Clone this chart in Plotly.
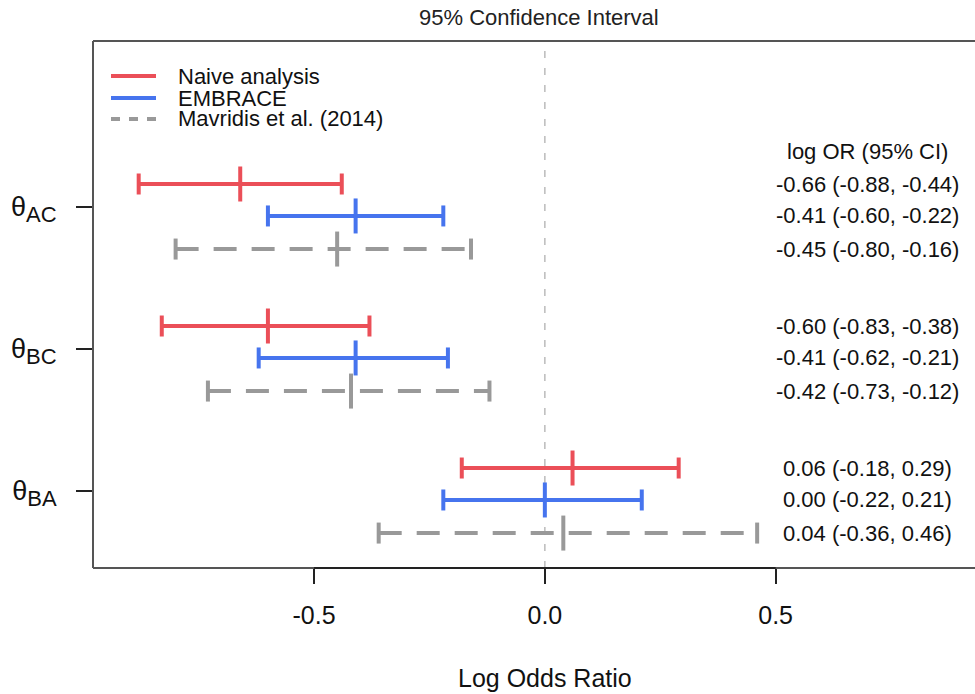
import plotly.graph_objects as go

# ---------------- data ----------------
comparisons = ["AC", "BC", "BA"]
series_names = ["Naive analysis", "EMBRACE", "Mavridis et al. (2014)"]
series_colors = ["#EB4F58", "#4674EE", "#999999"]
series_dash = ["solid", "solid", "23px,15px"]

naive_est = [-0.66, -0.60, 0.06]
naive_lo = [-0.88, -0.83, -0.18]
naive_hi = [-0.44, -0.38, 0.29]

embrace_est = [-0.41, -0.41, 0.00]
embrace_lo = [-0.60, -0.62, -0.22]
embrace_hi = [-0.22, -0.21, 0.21]

mavridis_est = [-0.45, -0.42, 0.04]
mavridis_lo = [-0.80, -0.73, -0.36]
mavridis_hi = [-0.16, -0.12, 0.46]

x_ticks = [-0.5, 0.0, 0.5]
x_tick_labels = ["-0.5", "0.0", "0.5"]

# ---------------- layout constants ----------------
W, H = 975, 694
ML, MR, MT, MB = 93, 0, 41, 126
PW, PH = W - ML - MR, H - MT - MB
XRANGE = [-0.979, 0.932]
YRANGE = [2.542, -1.169]           # group index axis (reversed)
row_offsets = [-0.162, 0.063, 0.296]
FONT = "Liberation Sans, Arial, Helvetica, sans-serif"


def px_to_paper_y(py):
    return (MT + PH - py) / PH


def px_to_paper_x(px):
    return (px - ML) / PW


series = [
    (naive_est, naive_lo, naive_hi),
    (embrace_est, embrace_lo, embrace_hi),
    (mavridis_est, mavridis_lo, mavridis_hi),
]

fig = go.Figure()
annotations = []
for s, (est, lo, hi) in enumerate(series):
    color = series_colors[s]
    xs, ys = [], []
    cap_x, cap_y = [], []
    for g in range(len(comparisons)):
        y = g + row_offsets[s]
        xs += [lo[g], hi[g], None]
        ys += [y, y, None]
        cap_x += [lo[g], hi[g]]
        cap_y += [y, y]
        annotations.append(dict(
            x=px_to_paper_x(867), xref="paper", y=y, yref="y",
            text=f"{est[g]:.2f} ({lo[g]:.2f}, {hi[g]:.2f})",
            showarrow=False, xanchor="center", yanchor="middle",
            font=dict(size=22, color="#111", family=FONT)))
    # interval line
    fig.add_trace(go.Scatter(x=xs, y=ys, mode="lines", showlegend=False,
                             line=dict(color=color, width=4, dash=series_dash[s]),
                             hoverinfo="skip"))
    # caps
    fig.add_trace(go.Scatter(x=cap_x, y=cap_y, mode="markers", showlegend=False,
                             marker=dict(symbol="line-ns", size=15,
                                         line=dict(color=color, width=4)),
                             hoverinfo="skip"))
    # point estimate
    fig.add_trace(go.Scatter(x=est, y=[g + row_offsets[s] for g in range(len(comparisons))],
                             mode="markers", showlegend=False, name=series_names[s],
                             marker=dict(symbol="line-ns", size=25,
                                         line=dict(color=color, width=4))))

shapes = []
# zero reference line
shapes.append(dict(type="line", xref="x", yref="paper", x0=0, x1=0, y0=0, y1=0.99,
                   line=dict(color="#BBBBBB", width=1.5, dash="7px,10px"), layer="below"))
# box (left, top, bottom) - right side lies outside the picture
box_col = "#555555"
shapes.append(dict(type="line", xref="paper", yref="paper", x0=0, x1=0, y0=0, y1=1,
                   line=dict(color=box_col, width=2)))
shapes.append(dict(type="line", xref="paper", yref="paper", x0=0, x1=1, y0=1, y1=1,
                   line=dict(color=box_col, width=2)))
shapes.append(dict(type="line", xref="paper", yref="paper", x0=0, x1=1, y0=0, y1=0,
                   line=dict(color=box_col, width=2)))
# axis line between first and last tick
shapes.append(dict(type="line", xref="x", yref="paper", x0=x_ticks[0], x1=x_ticks[-1],
                   y0=0, y1=0, line=dict(color="#222222", width=2)))

# manual legend
legend_rows = [76, 98, 119]
legend_dash = ["solid", "solid", "9px,9px"]
for i, name in enumerate(series_names):
    py = px_to_paper_y(legend_rows[i])
    shapes.append(dict(type="line", xref="paper", yref="paper",
                       x0=px_to_paper_x(111), x1=px_to_paper_x(156), y0=py, y1=py,
                       line=dict(color=series_colors[i], width=4, dash=legend_dash[i])))
    annotations.append(dict(x=px_to_paper_x(176), xref="paper", y=py, yref="paper",
                            text=name, showarrow=False, xanchor="left", yanchor="middle",
                            font=dict(size=22, color="#111", family=FONT)))

# header of the text column
annotations.append(dict(x=px_to_paper_x(867), xref="paper", y=px_to_paper_y(152), yref="paper",
                        text="log OR (95% CI)", showarrow=False, xanchor="center",
                        yanchor="middle", font=dict(size=22, color="#111", family=FONT)))
# title
annotations.append(dict(x=px_to_paper_x(539), xref="paper", y=px_to_paper_y(18), yref="paper",
                        text="95% Confidence Interval", showarrow=False, xanchor="center",
                        yanchor="middle", font=dict(size=22, color="#222", family=FONT)))
# x axis title
annotations.append(dict(x=0, xref="x", y=px_to_paper_y(678), yref="paper",
                        text="Log Odds Ratio", showarrow=False, xanchor="center",
                        yanchor="middle", font=dict(size=25, color="#111", family=FONT)))

y_tick_text = [f"θ<sub><span style='font-size:22px'>{c}</span></sub>" for c in comparisons]

fig.update_layout(
    width=W, height=H,
    margin=dict(l=ML, r=MR, t=MT, b=MB, pad=0),
    plot_bgcolor="white", paper_bgcolor="white",
    font=dict(family=FONT, color="#111"),
    showlegend=False,
    shapes=shapes, annotations=annotations,
    xaxis=dict(range=XRANGE, tickvals=x_ticks, ticktext=x_tick_labels,
               showgrid=False, zeroline=False, showline=False,
               ticks="outside", ticklen=15, tickwidth=2, tickcolor="#222",
               tickfont=dict(size=25, color="#111", family=FONT), ticklabelstandoff=10),
    yaxis=dict(range=YRANGE, tickvals=list(range(len(comparisons))), ticktext=y_tick_text,
               showgrid=False, zeroline=False, showline=False,
               ticks="outside", ticklen=16, tickwidth=2, tickcolor="#222",
               tickfont=dict(size=27, color="#111", family=FONT), ticklabelstandoff=14),
)

fig.write_html("out.html")
